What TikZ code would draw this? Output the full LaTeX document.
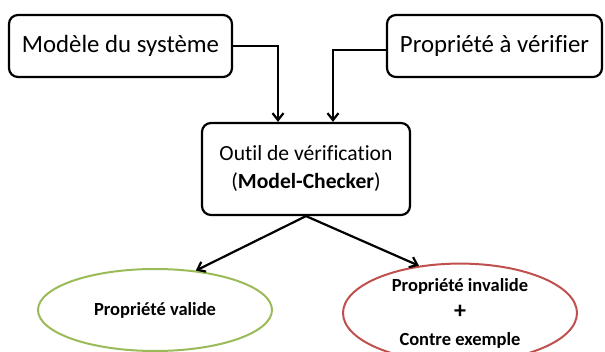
\documentclass[tikz,border=0pt]{standalone}
\usepackage{fontspec}
\setmainfont{Carlito}[Ligatures=NoCommon]
\usetikzlibrary{shapes.geometric,arrows.meta}
\definecolor{okgreen}{HTML}{9BBB59}
\definecolor{okred}{HTML}{C0504D}
\begin{document}
\begin{tikzpicture}[x=1pt,y=-1pt,
  boxst/.style={draw=black,line width=2.2pt,rounded corners=9pt,align=center,inner sep=0pt},
  ellst/.style={ellipse,line width=2pt,align=center,inner sep=0pt,font=\bfseries\fontsize{18.5}{27}\selectfont},
  arr/.style={line width=2.2pt,-{Straight Barb[length=7pt,width=11pt,line width=2.2pt]}}]
\useasboundingbox (0,0) rectangle (605,352);
\node[boxst,minimum width=223pt,minimum height=62pt,font=\fontsize{24.8}{28}\selectfont] (m) at (120.5,46) {Modèle du système};
\node[boxst,minimum width=215pt,minimum height=62pt,font=\fontsize{24.8}{28}\selectfont] (p) at (494.5,46) {Propriété à vérifier};
\node[boxst,minimum width=208pt,minimum height=92pt,font=\fontsize{21.6}{28}\selectfont] (o) at (306,169) {Outil de vérification\\(\textbf{Model-Checker})};
\node[ellst,draw=okgreen,minimum width=234pt,minimum height=82pt] (v) at (155,310) {Propriété valide};
\node[ellst,draw=okred,minimum width=234pt,minimum height=80pt] (inv) at (460,313) {Propriété invalide\\{\fontsize{24}{27}\selectfont +}\\Contre exemple};
\coordinate (c1) at (278,0);
\coordinate (c2) at (333,0);
\draw[arr] (m.east) -| (o.north -| c1);
\draw[arr] ([yshift=-4pt]p.west) -| (o.north -| c2);
\draw[arr] (o.south) -- (v.44);
\draw[arr] (o.south) -- (inv.131);
\end{tikzpicture}
\end{document}
